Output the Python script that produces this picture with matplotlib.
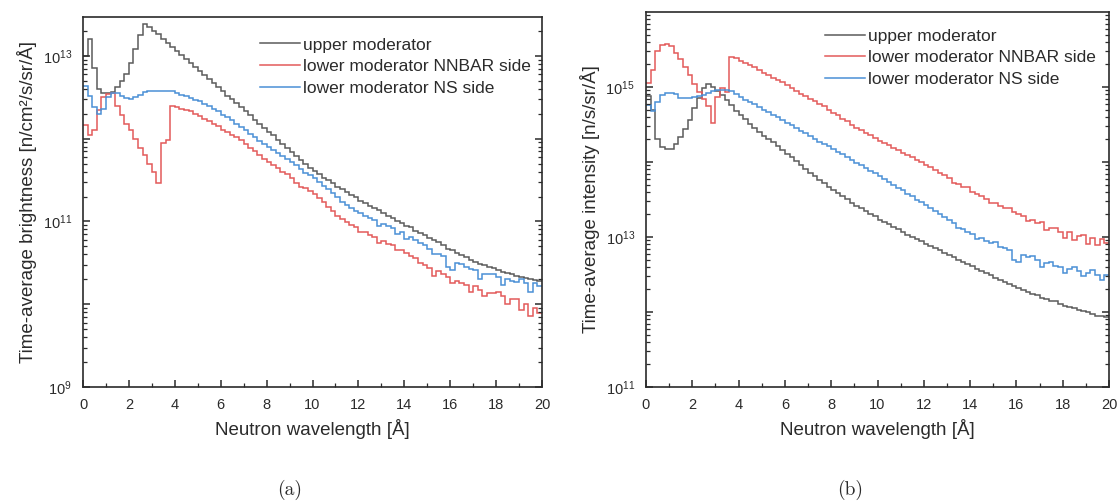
import numpy as np
import matplotlib
matplotlib.use("Agg")
import matplotlib.pyplot as plt
from matplotlib.ticker import FixedLocator, MultipleLocator, FuncFormatter, NullFormatter

plt.rcParams["font.family"] = ["Liberation Sans", "DejaVu Sans"]
plt.rcParams["mathtext.fontset"] = "custom"
plt.rcParams["mathtext.rm"] = "Liberation Sans"
plt.rcParams["mathtext.it"] = "Liberation Sans:italic"
plt.rcParams["mathtext.bf"] = "Liberation Sans:bold"

# Wavelength binning: 0.2 Å wide bins from 0 to 20 Å
BIN_WIDTH = 0.2
N_BINS = 100

series_names = ["upper moderator", "lower moderator NNBAR side", "lower moderator NS side"]

# (a) Time-average brightness, in units of 1e11 n/cm^2/s/sr/Å
BRIGHT_UNIT = 1e11
bright_upper = [
    100, 158, 70.8, 39.8, 35.5, 35.5, 36.3, 41.7, 50.1, 60.3,
    83.2, 120, 178, 240, 224, 200, 182, 162, 145, 129,
    115, 102, 91.2, 81.3, 74.1, 66.1, 58.9, 52.5, 46.8, 41.7,
    37.2, 33.1, 30.2, 26.9, 24.0, 21.4, 19.1, 17.0, 15.1, 13.5,
    12.0, 11.0, 9.77, 8.71, 7.76, 6.92, 6.17, 5.50, 5.01, 4.47,
    4.07, 3.72, 3.39, 3.16, 2.88, 2.63, 2.45, 2.24, 2.09, 1.95,
    1.78, 1.66, 1.55, 1.45, 1.37, 1.26, 1.17, 1.10, 1.02, 0.955,
    0.891, 0.850, 0.776, 0.724, 0.690, 0.631, 0.589, 0.560, 0.513, 0.468,
    0.447, 0.417, 0.389, 0.370, 0.339, 0.324, 0.309, 0.295, 0.282, 0.272,
    0.257, 0.245, 0.240, 0.229, 0.222, 0.214, 0.209, 0.203, 0.195, 0.191,
]
bright_nnbar = [
    14.5, 11.0, 12.6, 22.4, 31.6, 34.7, 35.5, 25.1, 19.1, 15.1,
    12.6, 10.0, 7.76, 6.31, 5.01, 3.98, 2.95, 8.91, 9.55, 25.1,
    24.0, 22.9, 22.4, 21.4, 20.0, 18.6, 17.4, 16.2, 15.1, 14.1,
    12.9, 12.0, 11.2, 10.5, 9.55, 8.71, 7.76, 7.08, 6.31, 5.75,
    5.25, 4.79, 4.37, 3.98, 3.72, 3.31, 2.95, 2.63, 2.51, 2.34,
    2.14, 1.91, 1.70, 1.48, 1.32, 1.17, 1.07, 0.977, 0.912, 0.851,
    0.740, 0.741, 0.692, 0.646, 0.550, 0.575, 0.537, 0.513, 0.450, 0.457,
    0.417, 0.380, 0.360, 0.316, 0.295, 0.275, 0.220, 0.250, 0.229, 0.214,
    0.180, 0.191, 0.178, 0.170, 0.140, 0.165, 0.148, 0.125, 0.138, 0.135,
    0.140, 0.126, 0.100, 0.115, 0.115, 0.085, 0.100, 0.072, 0.090, 0.078,
]
bright_ns = [
    43.7, 33.1, 24.0, 20.0, 22.9, 31.6, 35.5, 35.5, 33.1, 30.9,
    30.2, 31.6, 33.9, 36.3, 37.2, 38.0, 38.0, 38.0, 38.0, 37.2,
    35.5, 33.9, 32.4, 30.9, 29.5, 28.2, 26.3, 24.5, 22.9, 21.4,
    19.5, 18.2, 16.6, 15.1, 13.8, 12.6, 11.5, 10.5, 9.33, 8.51,
    7.94, 7.24, 6.76, 6.17, 5.75, 5.25, 4.79, 4.27, 3.89, 3.63,
    3.31, 3.02, 2.69, 2.45, 2.19, 1.95, 1.74, 1.58, 1.45, 1.35,
    1.26, 1.17, 1.10, 1.05, 0.880, 0.933, 0.871, 0.832, 0.700, 0.741,
    0.620, 0.646, 0.603, 0.550, 0.513, 0.468, 0.400, 0.407, 0.380, 0.280,
    0.260, 0.316, 0.310, 0.282, 0.269, 0.257, 0.200, 0.234, 0.229, 0.230,
    0.214, 0.170, 0.200, 0.191, 0.186, 0.200, 0.178, 0.140, 0.180, 0.166,
]

# (b) Time-average intensity, in units of 1e13 n/s/sr/Å
INTENS_UNIT = 1e13
intens_upper = [
    75.9, 50.1, 20.0, 15.8, 14.8, 15.1, 17.4, 21.4, 27.5, 36.3,
    52.5, 72.4, 97.7, 110, 100, 89.1, 79.4, 67.6, 57.5, 47.9,
    41.7, 37.2, 32.4, 28.2, 25.1, 22.4, 20.4, 18.2, 16.2, 14.5,
    12.9, 11.5, 10.2, 9.12, 8.13, 7.24, 6.46, 5.75, 5.25, 4.68,
    4.27, 3.89, 3.55, 3.24, 2.88, 2.63, 2.40, 2.24, 2.04, 1.91,
    1.70, 1.58, 1.48, 1.35, 1.26, 1.15, 1.07, 1.00, 0.933, 0.871,
    0.813, 0.759, 0.708, 0.661, 0.617, 0.575, 0.537, 0.501, 0.468, 0.437,
    0.407, 0.380, 0.355, 0.331, 0.309, 0.288, 0.269, 0.251, 0.234, 0.219,
    0.209, 0.195, 0.182, 0.174, 0.168, 0.155, 0.148, 0.141, 0.139, 0.126,
    0.120, 0.115, 0.112, 0.107, 0.102, 0.100, 0.0933, 0.0890, 0.0871, 0.0851,
]
intens_nnbar = [
    112, 166, 302, 363, 372, 355, 288, 234, 186, 145,
    110, 85.1, 69.2, 55.0, 33.1, 74.1, 97.7, 85.1, 251, 240,
    224, 209, 195, 182, 170, 155, 145, 132, 123, 115,
    105, 97.7, 89.1, 81.3, 75.9, 69.2, 64.6, 58.9, 55.0, 50.1,
    45.7, 41.7, 38.0, 34.7, 31.6, 28.8, 26.9, 24.5, 22.9, 20.9,
    19.1, 17.8, 16.6, 15.5, 14.5, 13.2, 12.3, 11.5, 10.7, 10.0,
    9.12, 8.51, 7.76, 7.08, 6.61, 6.03, 5.20, 5.13, 4.68, 4.60,
    3.98, 3.72, 3.47, 3.24, 2.80, 2.82, 2.63, 2.45, 2.45, 2.14,
    2.04, 1.91, 1.65, 1.66, 1.55, 1.60, 1.25, 1.32, 1.30, 1.17,
    0.980, 1.18, 0.900, 1.02, 1.05, 0.800, 0.980, 0.780, 0.950, 0.820,
]
intens_ns = [
    57.5, 47.9, 63.1, 79.4, 83.2, 83.2, 81.3, 72.4, 70.8, 72.4,
    74.1, 75.9, 79.4, 83.2, 87.1, 91.2, 91.2, 91.2, 89.1, 81.3,
    74.1, 67.6, 63.1, 58.9, 53.7, 50.1, 46.8, 42.7, 39.8, 36.3,
    33.1, 30.9, 28.2, 25.7, 24.0, 21.9, 20.4, 18.6, 17.4, 16.2,
    14.8, 13.8, 12.6, 11.5, 10.7, 9.77, 9.12, 8.32, 7.59, 7.08,
    6.46, 5.89, 5.37, 5.01, 4.57, 4.17, 3.80, 3.47, 3.16, 2.95,
    2.69, 2.45, 2.24, 2.04, 1.86, 1.70, 1.55, 1.30, 1.29, 1.17,
    1.10, 0.930, 0.955, 0.891, 0.832, 0.850, 0.741, 0.708, 0.661, 0.500,
    0.470, 0.575, 0.537, 0.560, 0.490, 0.400, 0.447, 0.460, 0.407, 0.398,
    0.330, 0.372, 0.400, 0.355, 0.300, 0.331, 0.360, 0.309, 0.270, 0.310,
]

colors = ["#5b5b5b", "#e35a5a", "#4a90d6"]
text_color = "#2b2b2b"

edges = np.linspace(0.0, BIN_WIDTH * N_BINS, N_BINS + 1)

fig = plt.figure(figsize=(11.18, 5.04), dpi=100)
ax_a = fig.add_axes([83 / 1118, 1 - 387 / 504, 459 / 1118, 370 / 504])
ax_b = fig.add_axes([646 / 1118, 1 - 387 / 504, 463 / 1118, 375 / 504])


def sci_label(v, shown):
    e = int(round(np.log10(v)))
    return r"$10^{%d}$" % e if e in shown else ""


def style_axes(ax, decades, top, shown):
    lo, hi = decades
    ax.set_xlim(0, 20)
    ax.set_yscale("log")
    ax.xaxis.set_major_locator(MultipleLocator(2))
    ax.xaxis.set_minor_locator(MultipleLocator(1))
    majors = [10.0 ** e for e in range(lo, hi + 1)]
    minors = [m * 10.0 ** e for e in range(lo, hi + 1) for m in range(2, 10)]
    ax.yaxis.set_major_locator(FixedLocator(majors))
    ax.yaxis.set_minor_locator(FixedLocator(minors))
    ax.yaxis.set_major_formatter(FuncFormatter(lambda v, p: sci_label(v, shown)))
    ax.yaxis.set_minor_formatter(NullFormatter())
    ax.set_ylim(10.0 ** lo, top)
    ax.tick_params(which="both", direction="in", top=False, right=True,
                   colors=text_color, labelsize=10.5, pad=8)
    ax.tick_params(which="major", length=5, width=1.1)
    ax.tick_params(which="minor", length=3, width=0.9)
    for sp in ax.spines.values():
        sp.set_color(text_color)
        sp.set_linewidth(1.2)
    ax.set_xlabel("Neutron wavelength [Å]", fontsize=13.5, color=text_color, labelpad=5)


for ax, data, unit in (
    (ax_a, (bright_upper, bright_nnbar, bright_ns), BRIGHT_UNIT),
    (ax_b, (intens_upper, intens_nnbar, intens_ns), INTENS_UNIT),
):
    for vals, c, name in zip(data, colors, series_names):
        ax.stairs(np.asarray(vals) * unit, edges, baseline=None, color=c, lw=1.1, label=name)

style_axes(ax_a, (9, 13), 10 ** 13.47, {9, 11, 13})
style_axes(ax_b, (11, 15), 1e16, {11, 13, 15})

ax_a.set_ylabel("Time-average brightness [n/cm²/s/sr/Å]", fontsize=13.5, color=text_color)
ax_b.set_ylabel("Time-average intensity [n/s/sr/Å]", fontsize=13.5, color=text_color)
ax_a.yaxis.set_label_coords(-0.10, 0.5)
ax_b.yaxis.set_label_coords(-0.10, 0.5)

for ax, anchor in ((ax_a, (0.386, 0.945)), (ax_b, (0.387, 0.956))):
    leg = ax.legend(loc="upper left", bbox_to_anchor=anchor, frameon=False,
                    fontsize=12.5, handlelength=2.3, handletextpad=0.15,
                    labelspacing=0.38, borderpad=0.0, borderaxespad=0.0)
    for t in leg.get_texts():
        t.set_color(text_color)

fig.text(290 / 1118, 1 - 490 / 504, "(a)", family="cmr10", fontsize=14,
         ha="center", va="center", color=text_color)
fig.text(850 / 1118, 1 - 490 / 504, "(b)", family="cmr10", fontsize=14,
         ha="center", va="center", color=text_color)

fig.savefig("out.png", dpi=100, facecolor="white")
